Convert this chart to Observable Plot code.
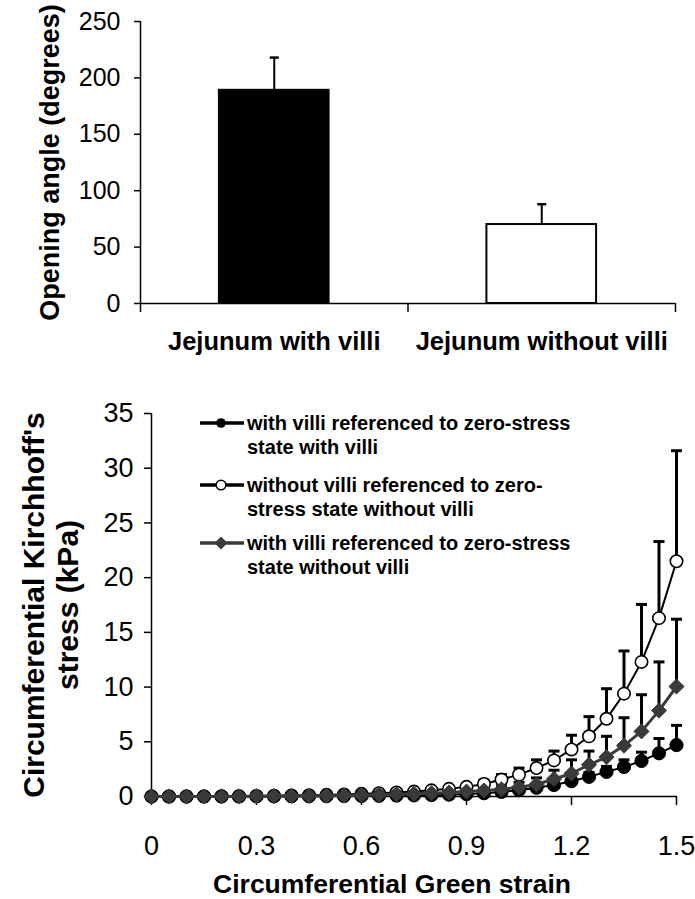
<!DOCTYPE html>
<html><head><meta charset="utf-8">
<script src="https://cdn.jsdelivr.net/npm/d3@7"></script>
<script src="https://cdn.jsdelivr.net/npm/@observablehq/plot@0.6"></script>
<style>
body{margin:0;background:#fff;}
#chart{position:relative;width:695px;height:899px;font-family:"Liberation Sans",Arial,sans-serif;color:#000;}
#chart svg{display:block;}
.leg{position:absolute;left:198px;height:48px;width:420px;}
.leg svg{position:absolute;left:0;top:0;}
.leg .txt{position:absolute;left:49px;top:0;font-weight:bold;font-size:20px;line-height:24px;white-space:nowrap;}
</style></head><body><div id="chart"></div><script>
// ---- top panel data ----
const categories = ["Jejunum with villi", "Jejunum without villi"];
const angleMean = [189, 70];
const angleSD = [29, 18];
const barFill = ["black", "white"];
const angleTicks = [0, 50, 100, 150, 200, 250];

// ---- bottom panel data ----
const strain = [0,0.05,0.1,0.15,0.2,0.25,0.3,0.35,0.4,0.45,0.5,0.55,0.6,0.65,0.7,0.75,0.8,0.85,0.9,0.95,1.0,1.05,1.1,1.15,1.2,1.25,1.3,1.35,1.4,1.45,1.5];
const withVilli = [0,0,0,0,0,0,0.01,0.01,0.02,0.02,0.03,0.04,0.05,0.06,0.08,0.1,0.13,0.17,0.22,0.3,0.42,0.58,0.8,1.05,1.4,1.8,2.25,2.7,3.25,3.95,4.7];
const withVilliErr = [0,0,0,0,0,0,0.01,0.01,0.01,0.01,0.02,0.02,0.02,0.03,0.03,0.04,0.05,0.06,0.07,0.09,0.12,0.15,0.2,0.25,0.3,0.4,0.5,0.65,0.8,1.35,1.8];
const withoutVilli = [0,0,0,0.01,0.02,0.03,0.05,0.07,0.09,0.12,0.15,0.19,0.24,0.3,0.37,0.45,0.56,0.7,0.88,1.15,1.55,2.0,2.6,3.3,4.3,5.5,7.1,9.4,12.3,16.3,21.5];
const withoutVilliErr = [0,0,0,0,0.01,0.01,0.02,0.02,0.03,0.03,0.04,0.05,0.07,0.09,0.11,0.14,0.18,0.22,0.28,0.35,0.45,0.6,0.75,0.85,1.3,1.8,2.75,3.9,5.25,7.0,10.1];
const withVilliRefWithout = [0,0,0,0,0.01,0.02,0.03,0.04,0.05,0.06,0.08,0.1,0.12,0.15,0.19,0.24,0.3,0.37,0.45,0.55,0.65,0.85,1.1,1.6,2.1,2.9,3.6,4.65,5.95,7.85,10.05];
const withVilliRefWithoutErr = [0,0,0,0,0.01,0.01,0.01,0.02,0.02,0.03,0.03,0.04,0.05,0.06,0.07,0.09,0.11,0.14,0.18,0.22,0.3,0.45,0.6,0.8,1.25,1.25,1.9,2.55,3.35,4.45,6.15];
const stressTicks = [0, 5, 10, 15, 20, 25, 30, 35];
const strainTicks = [0, 0.3, 0.6, 0.9, 1.2, 1.5];
const strainTickLabels = ["0", "0.3", "0.6", "0.9", "1.2", "1.5"];
const legendLines = [
  ["with villi referenced to zero-stress", "state with villi"],
  ["without villi referenced to zero-", "stress state without villi"],
  ["with villi referenced to zero-stress", "state without villi"]
];

const FONT = '"Liberation Sans", Arial, sans-serif';
const GRAY = "#3a3a3a";
const chart = document.getElementById("chart");

// ---------- TOP PANEL ----------
const bars = categories.map((c, i) => ({i, cat: c, mean: angleMean[i], sd: angleSD[i], fill: barFill[i]}));
const barW = 0.41;
const capTop = {draw(ctx) { ctx.moveTo(-4.5, 0); ctx.lineTo(4.5, 0); }};
const capBot = {draw(ctx) { ctx.moveTo(-5.5, 0); ctx.lineTo(5.5, 0); }};

const topPlot = Plot.plot({
  width: 695, height: 360,
  marginLeft: 140, marginRight: 20, marginTop: 21, marginBottom: 57,
  style: {fontFamily: FONT, color: "#000", background: "#fff"},
  x: {domain: [0, 2], axis: null},
  y: {domain: [0, 250], axis: null},
  color: {type: "identity"},
  marks: [
    Plot.ruleX(bars, {x: d => d.i + 0.5, y1: "mean", y2: d => d.mean + d.sd, stroke: "black", strokeWidth: 2}),
    Plot.dot(bars, {x: d => d.i + 0.5, y: d => d.mean + d.sd, symbol: capTop, fill: "none", stroke: "black", strokeWidth: 2.5}),
    Plot.rectY(bars, {x1: d => d.i + 0.5 - barW / 2, x2: d => d.i + 0.5 + barW / 2, y1: 0, y2: "mean", fill: "fill", stroke: "black", strokeWidth: 2}),
    Plot.ruleX([0], {stroke: "black", strokeWidth: 1.5}),
    Plot.ruleY([0], {stroke: "black", strokeWidth: 1.5}),
    Plot.axisY({ticks: angleTicks, tickSize: 6, tickPadding: 14, fontSize: 25, strokeWidth: 1.5, label: null}),
    Plot.axisX({ticks: [0, 1, 2], tickSize: 9, tickFormat: () => "", strokeWidth: 1.5, label: null}),
    Plot.axisX({ticks: [0.5, 1.5], tickSize: 0, tickPadding: 28, tickFormat: d => categories[Math.floor(d)], fontSize: 25.5, fontWeight: "bold", label: null}),
    Plot.text(["Opening angle (degrees)"], {frameAnchor: "left", dx: -90, rotate: -90, fontSize: 27, fontWeight: "bold", textAnchor: "middle", lineAnchor: "middle"})
  ]
});
chart.appendChild(topPlot);

// ---------- BOTTOM PANEL ----------
const series = [
  {key: "without", vals: withoutVilli, err: withoutVilliErr},
  {key: "with", vals: withVilli, err: withVilliErr},
  {key: "withRefWithout", vals: withVilliRefWithout, err: withVilliRefWithoutErr}
];
const rows = series.flatMap(s => strain.map((x, i) => ({series: s.key, x, y: s.vals[i], err: s.err[i]})));
const errRows = rows.filter(d => d.err > 0);
const sub = k => rows.filter(d => d.series === k);

const bottomPlot = Plot.plot({
  width: 695, height: 539,
  marginLeft: 151, marginRight: 19, marginTop: 53, marginBottom: 103,
  style: {fontFamily: FONT, color: "#000", background: "transparent"},
  x: {domain: [0, 1.5], axis: null},
  y: {domain: [0, 35], axis: null},
  marks: [
    Plot.ruleX([0], {stroke: "black", strokeWidth: 1.5}),
    Plot.ruleY([0], {stroke: "black", strokeWidth: 1.5}),
    Plot.axisY({ticks: stressTicks, tickSize: 7, tickPadding: 11, fontSize: 27, strokeWidth: 1.5, label: null}),
    Plot.axisX({ticks: strainTicks, tickSize: 9, tickPadding: 30, tickFormat: d => strainTickLabels[strainTicks.indexOf(d)], fontSize: 27, strokeWidth: 1.5, label: null}),
    Plot.ruleX(errRows, {x: "x", y1: "y", y2: d => d.y + d.err, stroke: "black", strokeWidth: 3}),
    Plot.dot(errRows, {x: "x", y: d => d.y + d.err, symbol: capBot, fill: "none", stroke: "black", strokeWidth: 3}),
    Plot.line(sub("without"), {x: "x", y: "y", stroke: "black", strokeWidth: 2}),
    Plot.dot(sub("without"), {x: "x", y: "y", r: 6.2, fill: "white", stroke: "black", strokeWidth: 1.6}),
    Plot.line(sub("with"), {x: "x", y: "y", stroke: "black", strokeWidth: 2}),
    Plot.dot(sub("with"), {x: "x", y: "y", r: 6.6, fill: "black", stroke: "black", strokeWidth: 1}),
    Plot.line(sub("withRefWithout"), {x: "x", y: "y", stroke: GRAY, strokeWidth: 3}),
    Plot.dot(sub("withRefWithout"), {x: "x", y: "y", r: 6.8, symbol: "diamond2", fill: GRAY, stroke: GRAY, strokeWidth: 1}),
    Plot.text(["Circumferential Green strain"], {frameAnchor: "bottom", dx: -22, dy: 88, fontSize: 26.5, fontWeight: "bold", textAnchor: "middle", lineAnchor: "middle"}),
    Plot.text(["Circumferential Kirchhoff's\nstress (kPa)"], {frameAnchor: "left", dx: -101, rotate: -90, fontSize: 30, lineHeight: 1.13, fontWeight: "bold", textAnchor: "middle", lineAnchor: "middle"})
  ]
});
chart.appendChild(bottomPlot);

// ---------- LEGEND ----------
const legendTops = [411, 473, 531];
const legendSym = [
  g => g.append("circle").attr("cx", 23).attr("cy", 12).attr("r", 4.8).attr("fill", "black"),
  g => g.append("circle").attr("cx", 23).attr("cy", 12).attr("r", 4.8).attr("fill", "white").attr("stroke", "black").attr("stroke-width", 1.5),
  g => g.append("path").attr("d", "M23,5.5L29.5,12L23,18.5L16.5,12Z").attr("fill", GRAY)
];
const legendStroke = ["black", "black", GRAY];
legendLines.forEach((lines, i) => {
  const row = d3.select(chart).append("div").attr("class", "leg").style("top", legendTops[i] + "px");
  const svg = row.append("svg").attr("width", 48).attr("height", 24);
  svg.append("line").attr("x1", 2).attr("x2", 46).attr("y1", 12).attr("y2", 12).attr("stroke", legendStroke[i]).attr("stroke-width", 3.5);
  legendSym[i](svg);
  const t = row.append("div").attr("class", "txt");
  lines.forEach(l => t.append("div").text(l));
});
</script></body></html>
